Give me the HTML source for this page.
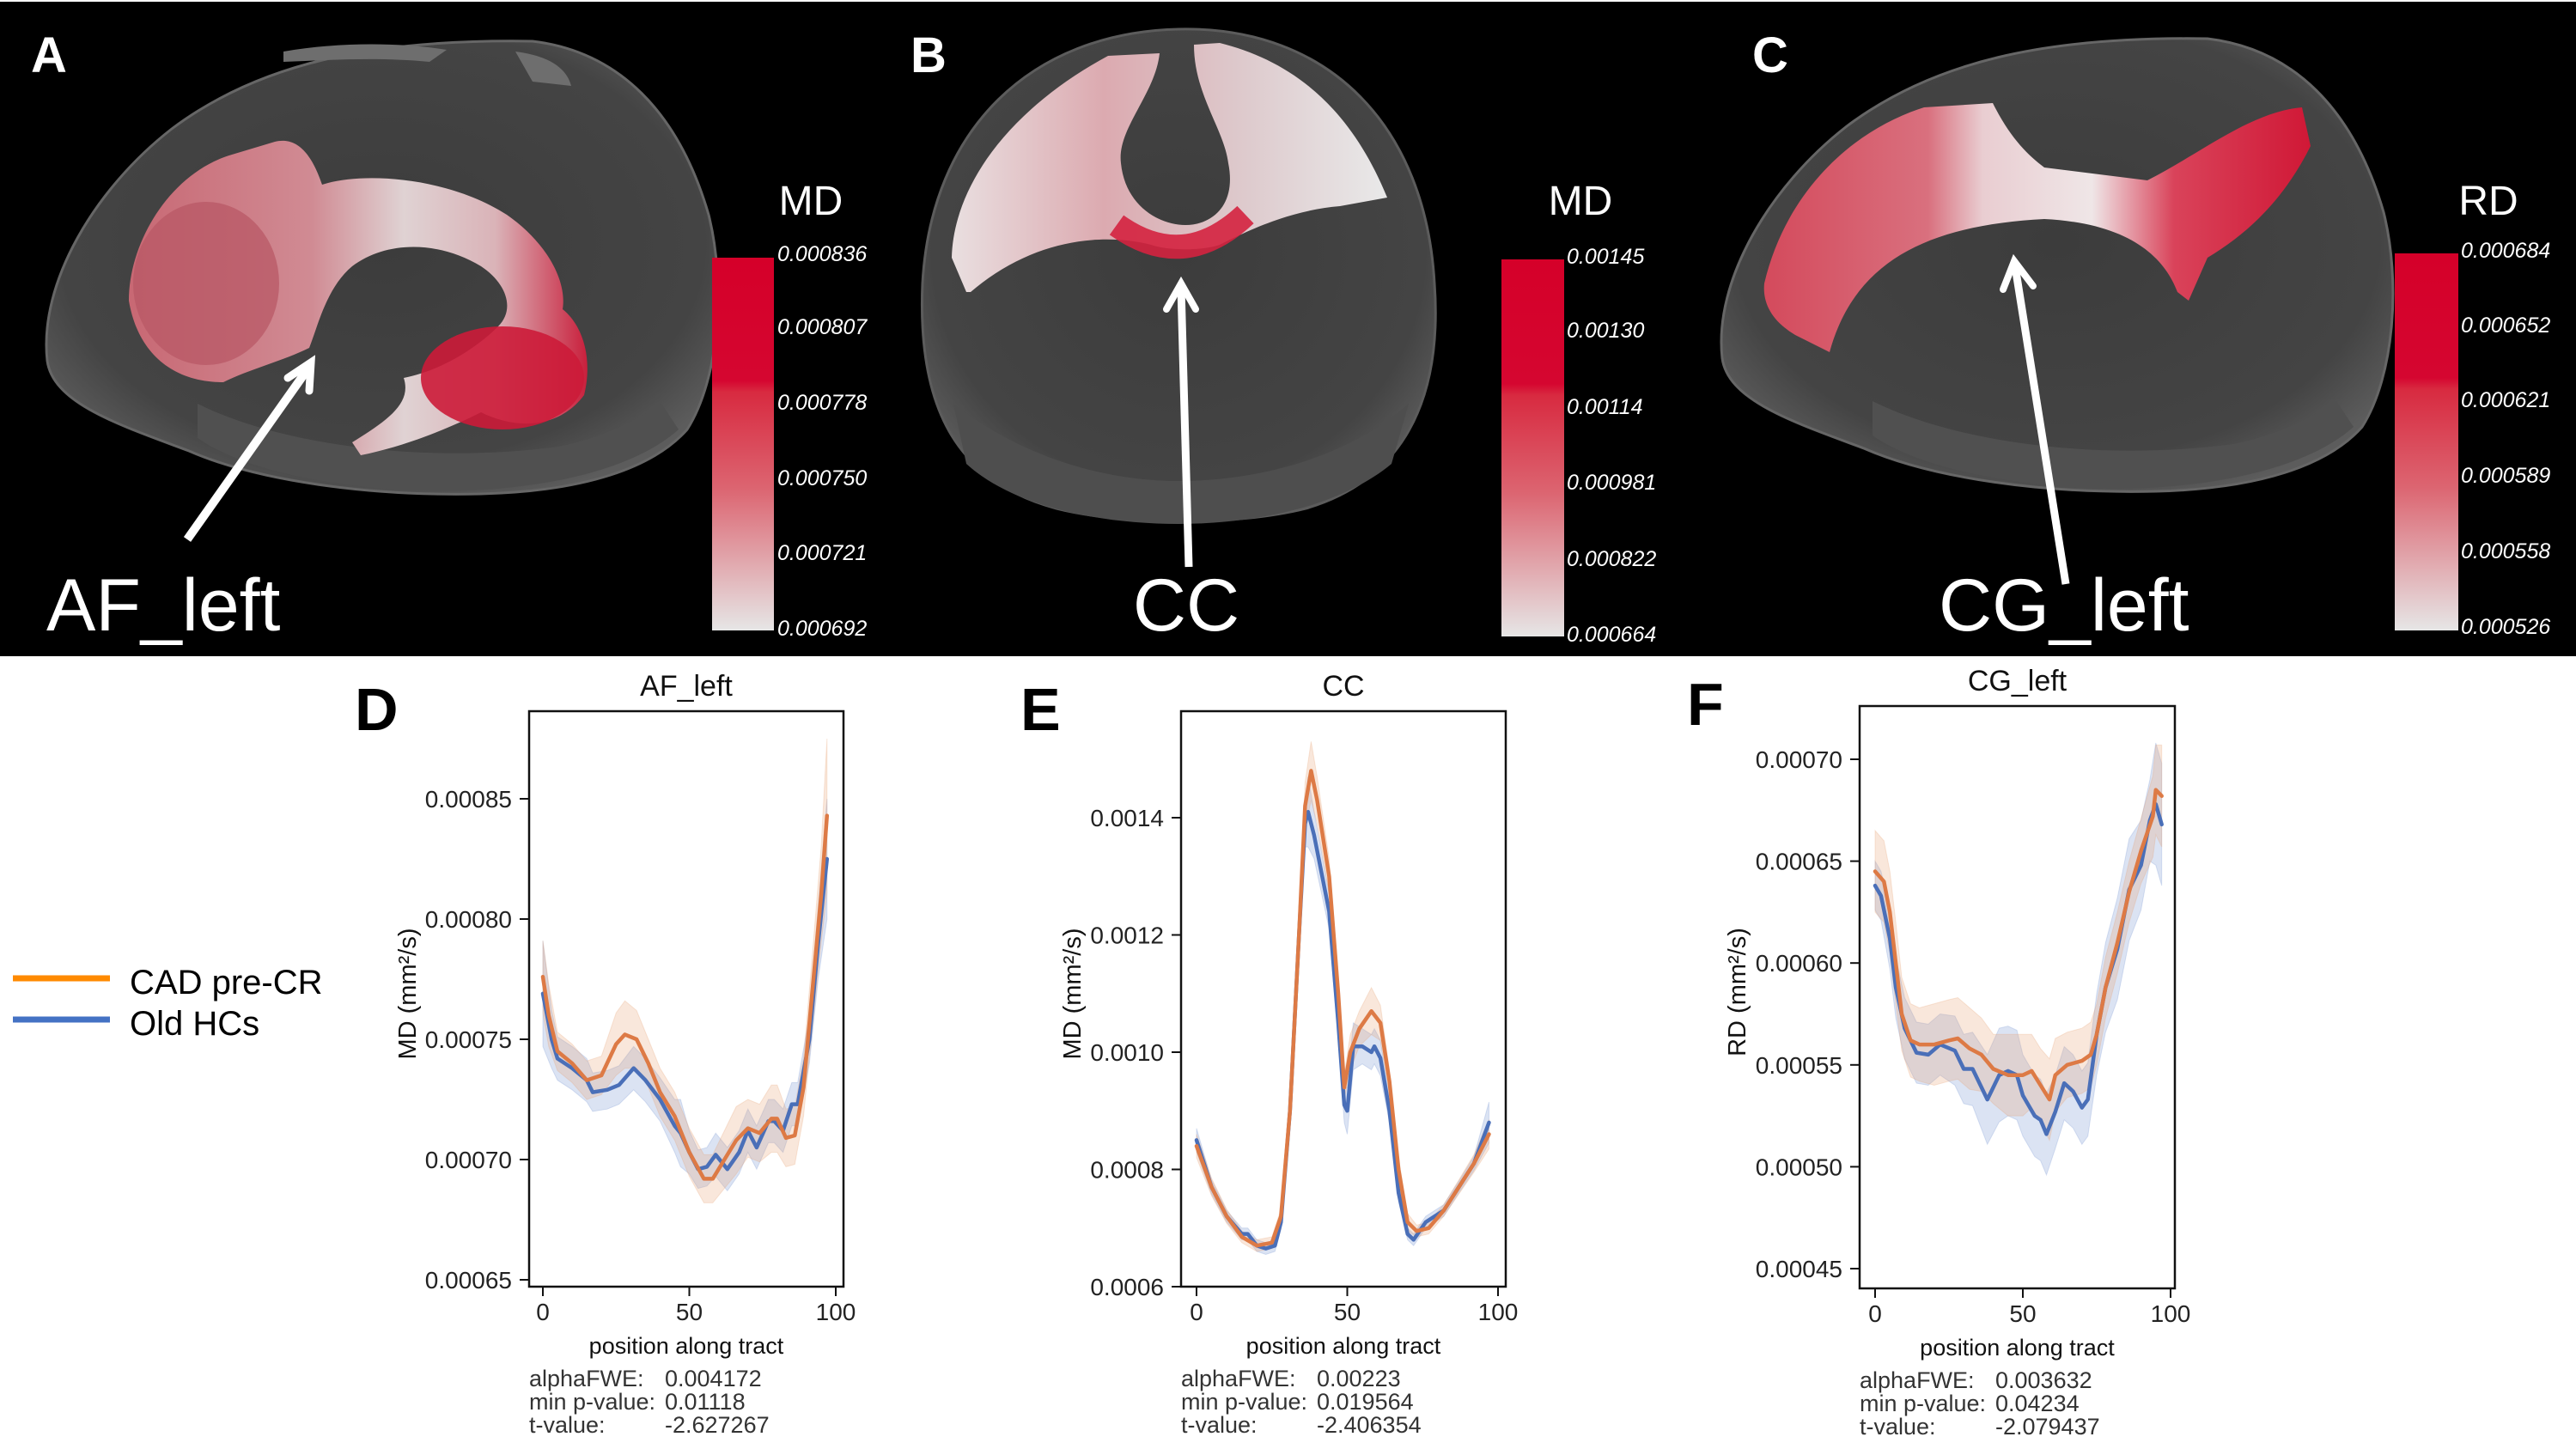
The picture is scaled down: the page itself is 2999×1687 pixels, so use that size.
<!DOCTYPE html>
<html><head><meta charset="utf-8">
<style>
html,body{margin:0;padding:0;background:#fff;}
svg{display:block;}
text{font-family:"Liberation Sans",Arial,sans-serif;}
</style></head>
<body>
<svg id="fig" xmlns="http://www.w3.org/2000/svg" width="2999" height="1687" viewBox="0 0 2999 1687">
<defs>
  <linearGradient id="cbar" x1="0" y1="0" x2="0" y2="1">
    <stop offset="0" stop-color="#d50029"/>
    <stop offset="0.33" stop-color="#d50630"/>
    <stop offset="0.36" stop-color="#d82a40"/>
    <stop offset="0.62" stop-color="#dc6571"/>
    <stop offset="1" stop-color="#e6e6e6"/>
  </linearGradient>
  <radialGradient id="brainfill" cx="0.5" cy="0.45" r="0.6">
    <stop offset="0" stop-color="#3c3c3c"/>
    <stop offset="0.8" stop-color="#444"/>
    <stop offset="1" stop-color="#5c5c5c"/>
  </radialGradient>
  <linearGradient id="afgrad" x1="0" y1="0" x2="1" y2="0">
    <stop offset="0" stop-color="#cf6a76"/>
    <stop offset="0.4" stop-color="#d88f98"/>
    <stop offset="0.6" stop-color="#e8dadb"/>
    <stop offset="0.8" stop-color="#e2b9be"/>
    <stop offset="1" stop-color="#d01e3c"/>
  </linearGradient>
  <linearGradient id="cggrad" x1="0" y1="0" x2="1" y2="0">
    <stop offset="0" stop-color="#d44a5c"/>
    <stop offset="0.3" stop-color="#d9707e"/>
    <stop offset="0.4" stop-color="#e9cdd1"/>
    <stop offset="0.6" stop-color="#efe6e7"/>
    <stop offset="0.75" stop-color="#d9435a"/>
    <stop offset="1" stop-color="#d01836"/>
  </linearGradient>
  <linearGradient id="ccgrad" x1="0" y1="0" x2="1" y2="0">
    <stop offset="0" stop-color="#e9dfe0"/>
    <stop offset="0.35" stop-color="#dcaab0"/>
    <stop offset="0.65" stop-color="#ddc8cb"/>
    <stop offset="1" stop-color="#e9e9e9"/>
  </linearGradient>
</defs>

<rect x="0" y="0" width="2999" height="1687" fill="#fff"/>
<rect x="0" y="2" width="2999" height="762" fill="#000"/>

<!-- Panel A -->
<g>
  <path d="M55,420 C45,330 110,220 200,150 C300,75 430,45 620,48 C720,60 790,130 825,250 C845,330 838,440 800,500 C760,545 680,572 560,575 C430,578 300,560 220,525 C140,495 62,470 55,420 Z" fill="url(#brainfill)" stroke="#666" stroke-width="3"/>
  <path d="M330,60 C400,48 470,50 520,58 L500,72 C440,66 380,70 330,72 Z M600,60 C640,65 660,80 665,100 L620,95 Z" fill="#6e6e6e"/>
  <path d="M230,470 C330,520 500,540 650,520 C700,510 740,490 770,470 L790,500 C740,545 640,570 520,572 C380,570 280,545 230,510 Z" fill="#505050"/>
  <path d="M150,350 C150,280 200,200 270,180 L320,165 C340,160 360,170 375,215 C420,200 520,205 590,250 C640,285 660,330 655,360 C680,380 690,420 680,460 C650,500 600,500 560,480 C520,500 470,520 420,530 L410,515 C450,490 480,470 470,440 C520,430 560,400 580,380 C600,360 590,330 560,310 C510,280 450,280 410,310 C380,335 370,380 360,405 C330,420 290,430 260,445 C200,445 160,410 150,350 Z" fill="url(#afgrad)" opacity="0.95"/>
  <ellipse cx="585" cy="440" rx="95" ry="60" fill="#cc1b38" opacity="0.9"/>
  <ellipse cx="240" cy="330" rx="85" ry="95" fill="#b85865" opacity="0.75"/>
  <path d="M218,628 L358,430" stroke="#fff" stroke-width="10" fill="none"/>
  <path d="M335,440 L362,422 L360,455" stroke="#fff" stroke-width="9" fill="none" stroke-linecap="round"/>
  <text x="36" y="84" font-size="58" font-weight="bold" fill="#fff">A</text>
  <text x="54" y="734" font-size="86" fill="#fff">AF_left</text>
  <text x="944" y="250" font-size="48" fill="#fff" text-anchor="middle">MD</text>
  <rect x="829" y="300" width="72" height="434" fill="url(#cbar)"/>
  <g font-size="25" font-style="italic" fill="#fff">
    <text x="905" y="304">0.000836</text>
    <text x="905" y="389">0.000807</text>
    <text x="905" y="477">0.000778</text>
    <text x="905" y="565">0.000750</text>
    <text x="905" y="652">0.000721</text>
    <text x="905" y="740">0.000692</text>
  </g>
</g>

<!-- Panel B -->
<g>
  <path d="M1372,34 C1550,30 1660,150 1670,330 C1680,470 1630,560 1520,592 C1440,612 1310,612 1230,592 C1110,560 1068,470 1074,330 C1084,150 1200,38 1372,34 Z" fill="url(#brainfill)" stroke="#5c5c5c" stroke-width="3"/>
  <path d="M1110,470 C1200,540 1300,560 1372,560 C1450,560 1560,540 1640,470 L1620,540 C1560,590 1460,610 1372,610 C1280,610 1180,590 1125,540 Z" fill="#4e4e4e"/>
  <path d="M1125,340 L1108,300 C1110,220 1170,130 1290,65 L1350,62 C1345,110 1300,150 1305,190 C1310,240 1350,262 1380,262 C1410,262 1440,240 1430,190 C1425,150 1390,110 1390,52 L1420,50 C1500,70 1570,120 1615,230 L1560,240 C1500,245 1450,270 1420,285 C1400,292 1360,292 1340,285 C1280,270 1200,280 1130,340 Z" fill="url(#ccgrad)"/>
  <path d="M1300,262 Q1378,318 1450,250" stroke="#d4223f" stroke-width="28" fill="none" opacity="0.9"/>
  <path d="M1384,660 L1375,335" stroke="#fff" stroke-width="9" fill="none"/>
  <path d="M1358,360 L1375,330 L1392,360" stroke="#fff" stroke-width="8" fill="none" stroke-linecap="round"/>
  <text x="1060" y="84" font-size="58" font-weight="bold" fill="#fff">B</text>
  <text x="1381" y="734" font-size="86" fill="#fff" text-anchor="middle">CC</text>
  <text x="1840" y="250" font-size="48" fill="#fff" text-anchor="middle">MD</text>
  <rect x="1748" y="302" width="73" height="439" fill="url(#cbar)"/>
  <g font-size="25" font-style="italic" fill="#fff">
    <text x="1824" y="307">0.00145</text>
    <text x="1824" y="393">0.00130</text>
    <text x="1824" y="482">0.00114</text>
    <text x="1824" y="570">0.000981</text>
    <text x="1824" y="659">0.000822</text>
    <text x="1824" y="747">0.000664</text>
  </g>
</g>

<!-- Panel C -->
<g>
  <path d="M55,420 C45,330 110,220 200,150 C300,75 430,45 620,48 C720,60 790,130 825,250 C845,330 838,440 800,500 C760,545 680,572 560,575 C430,578 300,560 220,525 C140,495 62,470 55,420 Z" transform="translate(1950,-3)" fill="url(#brainfill)" stroke="#666" stroke-width="3"/>
  <path d="M2180,467 C2280,517 2450,537 2600,517 C2650,507 2690,487 2720,467 L2740,497 C2690,542 2590,567 2470,569 C2330,567 2230,542 2180,507 Z" fill="#505050"/>
  <path d="M2054,330 C2080,220 2160,150 2240,125 L2320,120 C2340,160 2360,180 2380,195 L2500,210 C2560,180 2620,130 2680,125 L2690,170 C2660,230 2620,270 2570,300 L2548,350 L2535,340 C2520,300 2480,260 2380,255 C2250,262 2160,300 2130,410 L2090,390 C2060,372 2052,350 2054,330 Z" fill="url(#cggrad)"/>
  <path d="M2405,680 L2346,310" stroke="#fff" stroke-width="9" fill="none"/>
  <path d="M2332,337 L2345,304 L2367,333" stroke="#fff" stroke-width="8" fill="none" stroke-linecap="round"/>
  <text x="2040" y="84" font-size="58" font-weight="bold" fill="#fff">C</text>
  <text x="2257" y="734" font-size="86" fill="#fff">CG_left</text>
  <text x="2897" y="250" font-size="48" fill="#fff" text-anchor="middle">RD</text>
  <rect x="2788" y="295" width="74" height="439" fill="url(#cbar)"/>
  <g font-size="25" font-style="italic" fill="#fff">
    <text x="2865" y="300">0.000684</text>
    <text x="2865" y="387">0.000652</text>
    <text x="2865" y="474">0.000621</text>
    <text x="2865" y="562">0.000589</text>
    <text x="2865" y="650">0.000558</text>
    <text x="2865" y="738">0.000526</text>
  </g>
</g>

<!-- Legend -->
<g>
  <line x1="15" y1="1139" x2="128" y2="1139" stroke="#ff8a00" stroke-width="7"/>
  <text x="151" y="1157" font-size="40" fill="#000">CAD pre-CR</text>
  <line x1="15" y1="1187" x2="128" y2="1187" stroke="#4472c4" stroke-width="7"/>
  <text x="151" y="1205" font-size="40" fill="#000">Old HCs</text>
</g>

<g id="charts"></g>
</svg>

<script>
// ---------- Panel D (AF_left, MD) ----------
const dCadX = [0,2,5,10,15,20,25,28,32,36,40,45,50,55,58,62,66,70,74,78,80,83,86,89,92,95,97];
const dCad = [0.000776,0.00076,0.000745,0.00074,0.000733,0.000735,0.000748,0.000752,0.00075,0.00074,0.000728,0.000718,0.000703,0.000692,0.000692,0.0007,0.000708,0.000713,0.000711,0.000717,0.000717,0.000709,0.00071,0.00073,0.00077,0.00081,0.000843];
const dCadErr = [0.000015,0.000013,0.000008,0.000008,0.000008,0.000008,0.000013,0.000014,0.000012,0.00001,0.00001,0.00001,0.00001,0.00001,0.00001,0.000012,0.000014,0.000012,0.000012,0.000014,0.000014,0.000012,0.000012,0.000012,0.000015,0.00002,0.000032];
const dHcX = [0,3,5,10,15,17,22,26,31,35,40,45,47,50,53,56,59,63,67,70,73,77,79,82,85,87,91,94,97];
const dHc = [0.000769,0.00075,0.000742,0.000738,0.000733,0.000728,0.000729,0.000731,0.000738,0.000733,0.000725,0.000714,0.000711,0.000703,0.000696,0.000697,0.000702,0.000696,0.000703,0.000712,0.000705,0.000716,0.000716,0.000712,0.000723,0.000723,0.00075,0.00079,0.000825];
const dHcErr = [0.000022,0.000012,0.000009,0.000009,0.000009,0.000008,0.000008,0.000008,0.000009,0.000009,0.000009,0.000011,0.000014,0.000009,0.000008,0.000008,0.000009,0.000009,0.000009,0.000009,0.000009,0.000009,0.000009,0.000009,0.000009,0.000009,0.00001,0.000015,0.000025];
const dYTicks = [0.00065,0.0007,0.00075,0.0008,0.00085];
const dYTickLabels = ["0.00065","0.00070","0.00075","0.00080","0.00085"];
const dStats = ["0.004172","0.01118","-2.627267"];

// ---------- Panel E (CC, MD) ----------
const eCadX = [0,5,10,15,20,25,28,31,34,36,38,40,44,47,49,51,54,58,61,64,67,70,73,77,82,87,92,97];
const eCad = [0.00084,0.00077,0.00072,0.000685,0.00067,0.000675,0.00072,0.0009,0.0012,0.00142,0.00148,0.00143,0.0013,0.0011,0.00094,0.001,0.00104,0.00107,0.00105,0.00095,0.0008,0.00071,0.000695,0.0007,0.00073,0.00077,0.00081,0.00086];
const eCadErr = [0.00002,0.000015,0.000012,0.00001,0.00001,0.00001,0.000012,0.00002,0.00003,0.00004,0.00005,0.00004,0.00003,0.00003,0.00002,0.00003,0.00003,0.00004,0.00003,0.00002,0.00002,0.000015,0.00001,0.00001,0.00001,0.000012,0.000015,0.000025];
const eHcX = [0,5,10,15,17,20,23,26,28,31,34,36,37,39,44,47,49,50,52,55,58,59,61,64,67,70,72,76,82,87,92,97];
const eHc = [0.00085,0.00077,0.00072,0.00069,0.00069,0.00067,0.000665,0.00067,0.00071,0.0009,0.0012,0.00139,0.00141,0.00137,0.00124,0.00105,0.00091,0.0009,0.00101,0.00101,0.001,0.00101,0.00099,0.0009,0.00076,0.00069,0.00068,0.00071,0.00073,0.00077,0.00081,0.00088];
const eHcErr = [0.00002,0.000012,0.00001,0.00001,0.00001,0.00001,0.00001,0.00001,0.000012,0.00002,0.00003,0.00004,0.00006,0.00004,0.00003,0.00003,0.00003,0.00004,0.00004,0.00003,0.00003,0.00003,0.00003,0.00002,0.000015,0.00001,0.00001,0.00001,0.00001,0.00001,0.000012,0.000035];
const eYTicks = [0.0006,0.0008,0.001,0.0012,0.0014];
const eYTickLabels = ["0.0006","0.0008","0.0010","0.0012","0.0014"];
const eStats = ["0.00223","0.019564","-2.406354"];

// ---------- Panel F (CG_left, RD) ----------
const fCadX = [0,3,5,7,9,12,15,20,25,28,32,36,40,45,50,53,56,59,61,65,70,73,75,78,82,86,90,94,95,97];
const fCad = [0.000645,0.00064,0.000625,0.0006,0.000575,0.000562,0.00056,0.00056,0.000562,0.000563,0.000558,0.000555,0.000548,0.000545,0.000545,0.000547,0.00054,0.000533,0.000545,0.00055,0.000552,0.000555,0.000565,0.000588,0.00061,0.000635,0.000655,0.000672,0.000685,0.000682];
const fCadErr = [0.00002,0.00002,0.00002,0.00002,0.000018,0.000018,0.000018,0.00002,0.00002,0.00002,0.00002,0.000018,0.000017,0.00002,0.00002,0.000018,0.000018,0.00002,0.000018,0.000016,0.000016,0.000016,0.000015,0.000015,0.000015,0.000015,0.000016,0.00002,0.000022,0.000025];
const fHcX = [0,2,5,7,10,14,18,22,27,30,33,38,42,45,48,50,54,56,58,61,64,67,70,72,75,78,82,86,90,93,95,97];
const fHc = [0.000638,0.000633,0.000612,0.000588,0.000568,0.000556,0.000555,0.00056,0.000557,0.000548,0.000548,0.000533,0.000545,0.000547,0.000545,0.000535,0.000525,0.000523,0.000516,0.000527,0.000541,0.000537,0.000529,0.000533,0.000565,0.000588,0.000607,0.000636,0.000648,0.00067,0.000678,0.000668];
const fHcErr = [0.000012,0.000012,0.000015,0.000015,0.000015,0.000015,0.000015,0.000015,0.000017,0.000017,0.000018,0.000022,0.000023,0.000022,0.000022,0.00002,0.00002,0.00002,0.00002,0.000018,0.000018,0.000018,0.000018,0.000018,0.00002,0.000022,0.000025,0.000025,0.000022,0.00002,0.00003,0.00003];
const fYTicks = [0.00045,0.0005,0.00055,0.0006,0.00065,0.0007];
const fYTickLabels = ["0.00045","0.00050","0.00055","0.00060","0.00065","0.00070"];
const fStats = ["0.003632","0.04234","-2.079437"];

const xTicks = [0,50,100];
const xTickLabels = ["0","50","100"];
const statNames = ["alphaFWE:","min p-value:","t-value:"];

const NS = "http://www.w3.org/2000/svg";
const root = document.getElementById("charts");

function mk(tag, attrs, parent){
  const el = document.createElementNS(NS, tag);
  for (const k in attrs) el.setAttribute(k, attrs[k]);
  parent.appendChild(el);
  return el;
}

function drawPanel(key, letter, title, ylab, L, series, yTicks, yTickLabels, stats){
  const g = mk("g", {}, root);
  
  
  const sx = v => L.x0 + (v - 0) / 100 * (L.x100 - L.x0);
  const sy = v => L.p1 + (v - L.v1) / (L.v2 - L.v1) * (L.p2 - L.p1);

  // bands
  series.forEach(s => {
    const up = s.x.map((x,i) => sx(x).toFixed(1) + "," + sy(s.y[i] + s.e[i]).toFixed(1));
    const lo = s.x.map((x,i) => sx(x).toFixed(1) + "," + sy(s.y[i] - s.e[i]).toFixed(1)).reverse();
    const band = mk("polygon", {points: up.concat(lo).join(" "), fill: s.band, "fill-opacity": "0.25", stroke: s.band, "stroke-opacity": "0.25", "stroke-width": "1"}, g);
    
    
  });
  series.forEach(s => {
    const pts = s.x.map((x,i) => sx(x).toFixed(1) + "," + sy(s.y[i]).toFixed(1)).join(" ");
    const line = mk("polyline", {points: pts, fill: "none", stroke: s.color, "stroke-width": "4.5", "stroke-linejoin": "round", "stroke-linecap": "round"}, g);
    
    
  });

  // frame
  const frame = mk("rect", {x: L.left, y: L.top, width: L.right - L.left, height: L.bottom - L.top, fill: "none", stroke: "#111", "stroke-width": "2.5"}, g);
  
  

  // y ticks
  yTicks.forEach((v,i) => {
    const y = sy(v);
    const t = mk("line", {x1: L.left - 11, x2: L.left, y1: y, y2: y, stroke: "#111", "stroke-width": "2"}, g);
    
    
    const tl = mk("text", {x: L.left - 20, y: y + 10, "font-size": "28", "text-anchor": "end", fill: "#222"}, g);
    
    
    tl.textContent = yTickLabels[i];
  });
  // x ticks
  xTicks.forEach((v,i) => {
    const x = sx(v);
    const t = mk("line", {x1: x, x2: x, y1: L.bottom, y2: L.bottom + 11, stroke: "#111", "stroke-width": "2"}, g);
    
    
    const tl = mk("text", {x: x, y: L.bottom + 39, "font-size": "28", "text-anchor": "middle", fill: "#222"}, g);
    
    
    tl.textContent = xTickLabels[i];
  });

  const cx = (L.left + L.right) / 2;
  const tt = mk("text", {x: cx, y: L.titleY, "font-size": "34", "text-anchor": "middle", fill: "#111"}, g);
  
  
  tt.textContent = title;

  const xl = mk("text", {x: cx, y: L.bottom + 78, "font-size": "27", "text-anchor": "middle", fill: "#111"}, g);
  
  
  xl.textContent = "position along tract";

  const yc = (L.top + L.bottom) / 2 - 6;
  const yl = mk("text", {x: L.ylabX, y: yc, "font-size": "29", "text-anchor": "middle", fill: "#111", transform: "rotate(-90 " + L.ylabX + " " + yc + ")"}, g);
  
  
  yl.textContent = ylab + " (mm\u00B2/s)";

  const lt = mk("text", {x: L.letterX, y: L.titleY + 40, "font-size": "70", "font-weight": "bold", fill: "#000"}, g);
  
  
  lt.textContent = letter;

  statNames.forEach((nm,i) => {
    const y = L.bottom + 116 + i * 27;
    const a = mk("text", {x: L.left, y: y, "font-size": "27", fill: "#333"}, g);
    
    
    a.textContent = nm;
    const b = mk("text", {x: L.left + 158, y: y, "font-size": "27", fill: "#333"}, g);
    
    
    b.textContent = stats[i];
  });
}

const ORANGE = "#dd7a45", BLUE = "#4a6fb8";
drawPanel("d", "D", "AF_left", "MD",
  {left:616, right:982, top:828, bottom:1498, x0:632, x100:973, v1:0.00085, p1:930, v2:0.00065, p2:1490, titleY:810, letterX:413, ylabX:484},
  [{name:"old-hcs", x:dHcX, y:dHc, e:dHcErr, color:BLUE, band:"#6f8fd0"},
   {name:"cad-pre-cr", x:dCadX, y:dCad, e:dCadErr, color:ORANGE, band:"#e8a070"}],
  dYTicks, dYTickLabels, dStats);

drawPanel("e", "E", "CC", "MD",
  {left:1375, right:1753, top:828, bottom:1498, x0:1393, x100:1744, v1:0.0014, p1:952, v2:0.0006, p2:1498, titleY:810, letterX:1188, ylabX:1258},
  [{name:"old-hcs", x:eHcX, y:eHc, e:eHcErr, color:BLUE, band:"#6f8fd0"},
   {name:"cad-pre-cr", x:eCadX, y:eCad, e:eCadErr, color:ORANGE, band:"#e8a070"}],
  eYTicks, eYTickLabels, eStats);

drawPanel("f", "F", "CG_left", "RD",
  {left:2165, right:2532, top:822, bottom:1500, x0:2183, x100:2527, v1:0.0007, p1:884, v2:0.00045, p2:1477, titleY:804, letterX:1964, ylabX:2032},
  [{name:"old-hcs", x:fHcX, y:fHc, e:fHcErr, color:BLUE, band:"#6f8fd0"},
   {name:"cad-pre-cr", x:fCadX, y:fCad, e:fCadErr, color:ORANGE, band:"#e8a070"}],
  fYTicks, fYTickLabels, fStats);
</script>
</body></html>
